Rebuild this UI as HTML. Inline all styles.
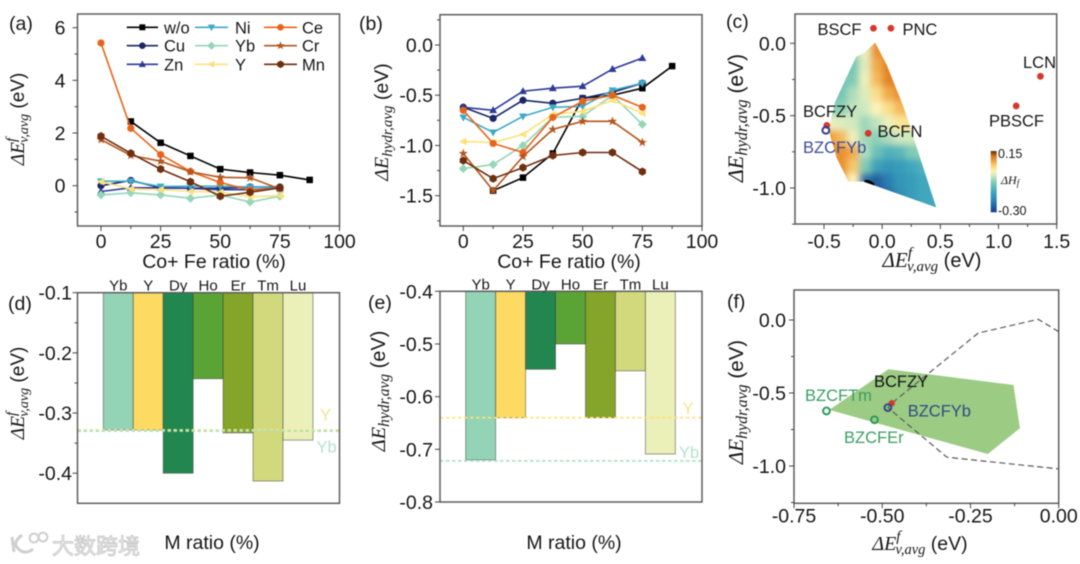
<!DOCTYPE html>
<html lang="en"><head><meta charset="utf-8"><title>Six panel perovskite chart</title>
<style>
html,body{margin:0;padding:0;background:#fff;width:1080px;height:564px;overflow:hidden}
svg{display:block;filter:blur(0.4px)}
text{font-family:"Liberation Sans","Noto Sans CJK SC",sans-serif;fill:#161616}
.m{font-family:"Liberation Serif",serif;font-style:italic}
.s{font-family:"Liberation Sans",sans-serif;font-style:normal}
</style></head><body>
<svg id="chart" xmlns="http://www.w3.org/2000/svg" width="1080" height="564" viewBox="0 0 1080 564">
<defs>
<filter id="soft" filterUnits="userSpaceOnUse" x="760" y="0" width="320" height="260"><feGaussianBlur stdDeviation="3.2"/></filter>
<linearGradient id="cbar" x1="0" y1="1" x2="0" y2="0"></linearGradient>
</defs>
<rect width="1080" height="564" fill="#fff"/>

<g font-size="19.5">
<text x="9" y="30">(a)</text>
<text x="359" y="30">(b)</text>
<text x="726" y="28">(c)</text>
<text x="8" y="310">(d)</text>
<text x="368" y="309">(e)</text>
<text x="727" y="308">(f)</text>
</g>

<g font-size="19.5" text-anchor="middle">
<text x="214" y="268">Co+ Fe ratio (%)</text>
<text x="569" y="268">Co+ Fe ratio (%)</text>
<text x="212" y="549">M ratio (%)</text>
<text x="574" y="549">M ratio (%)</text>
<text x="932" y="267" font-size="21"><tspan class="m">ΔE</tspan><tspan class="m" font-size="16" dy="-9">f</tspan><tspan class="m" font-size="15" dx="-5" dy="13">v,avg</tspan><tspan class="s" font-size="20" dy="-4"> (eV)</tspan></text>
<text x="920" y="550" font-size="20"><tspan class="m">ΔE</tspan><tspan class="m" font-size="15" dy="-9">f</tspan><tspan class="m" font-size="14.5" dx="-5" dy="13">v,avg</tspan><tspan class="s" font-size="19.5" dy="-4"> (eV)</tspan></text>
</g>

<g text-anchor="middle">
<text transform="translate(24,119) rotate(-90)" font-size="19.5"><tspan class="m">ΔE</tspan><tspan class="m" font-size="15" dy="-8">f</tspan><tspan class="m" font-size="14" dx="-5" dy="12">v,avg</tspan><tspan class="s" font-size="19" dy="-4"> (eV)</tspan></text>
<text transform="translate(388,122) rotate(-90)" font-size="20"><tspan class="m">ΔE</tspan><tspan class="m" font-size="15" dy="4">hydr,avg</tspan><tspan class="s" font-size="19.5" dy="-4"> (eV)</tspan></text>
<text transform="translate(743,118) rotate(-90)" font-size="22"><tspan class="m">ΔE</tspan><tspan class="m" font-size="16.5" dy="4">hydr,avg</tspan><tspan class="s" font-size="21" dy="-4"> (eV)</tspan></text>
<text transform="translate(24,393) rotate(-90)" font-size="19.5"><tspan class="m">ΔE</tspan><tspan class="m" font-size="15" dy="-8">f</tspan><tspan class="m" font-size="14" dx="-5" dy="12">v,avg</tspan><tspan class="s" font-size="19" dy="-4"> (eV)</tspan></text>
<text transform="translate(385,391) rotate(-90)" font-size="20.5"><tspan class="m">ΔE</tspan><tspan class="m" font-size="15.5" dy="4">hydr,avg</tspan><tspan class="s" font-size="20" dy="-4"> (eV)</tspan></text>
<text transform="translate(743,402) rotate(-90)" font-size="21"><tspan class="m">ΔE</tspan><tspan class="m" font-size="16" dy="4">hydr,avg</tspan><tspan class="s" font-size="20.5" dy="-4"> (eV)</tspan></text>
</g>

<g id="panelA"></g>
<g id="panelB"></g>
<g id="panelC"></g>
<g id="panelD"></g>
<g id="panelE"></g>
<g id="panelF"></g>

<g>
<g fill="none" stroke="#cfcfcf" stroke-width="3">
<path d="M12 537 L14 552 M22 535 Q10 544 21 551 Q27 554 33 549"/>
<circle cx="34" cy="538" r="4.4" stroke-width="2"/>
<circle cx="43" cy="537" r="4.4" stroke-width="2"/>
</g>
<text x="52" y="554" font-size="22" stroke="#c9c9c9" stroke-width="0.9" style="fill:#efefef;font-family:'Noto Sans CJK SC','Liberation Sans',sans-serif">大数跨境</text>
</g>
</svg>
<script>
// ---------- Panels (a) and (b): line chart data ----------
const ratios = [0, 12.5, 25, 37.5, 50, 62.5, 75, 87.5];
const seriesNames = ['w/o', 'Cu', 'Zn', 'Ni', 'Yb', 'Y', 'Ce', 'Cr', 'Mn'];
const seriesColors = ['#000000', '#1a2766', '#2c3a98', '#3fa9c6', '#93d6b8', '#fde27a', '#e8641a', '#b5561f', '#6e2f10'];
const seriesMarkers = ['square', 'circle', 'up', 'down', 'diamond', 'left', 'circle', 'star', 'hex'];
const vacancyWo = [null, 2.44, 1.63, 1.13, 0.63, 0.5, 0.4, 0.22];
const vacancyCu = [0.0, 0.2, -0.08, -0.1, -0.1, -0.05, -0.05, null];
const vacancyZn = [-0.22, -0.08, -0.08, -0.1, -0.15, -0.15, -0.1, null];
const vacancyNi = [0.17, 0.17, -0.03, -0.02, -0.02, -0.05, -0.08, null];
const vacancyYb = [-0.35, -0.27, -0.35, -0.48, -0.35, -0.62, -0.4, null];
const vacancyY = [0.15, -0.12, -0.15, -0.22, -0.25, -0.42, -0.38, null];
const vacancyCe = [5.42, 2.18, 1.18, 0.54, 0.12, -0.17, -0.1, null];
const vacancyCr = [1.75, 1.15, 0.93, 0.53, 0.32, 0.3, -0.12, null];
const vacancyMn = [1.88, 1.23, 0.63, 0.15, -0.4, -0.25, -0.08, null];
const hydrWo = [null, -1.45, -1.32, -1.08, -0.53, -0.5, -0.43, -0.21];
const hydrCu = [-0.62, -0.73, -0.55, -0.58, -0.53, -0.47, -0.38, null];
const hydrZn = [-0.62, -0.65, -0.46, -0.43, -0.41, -0.24, -0.13, null];
const hydrNi = [-0.72, -0.87, -0.71, -0.62, -0.61, -0.45, -0.38, null];
const hydrYb = [-1.23, -1.19, -1.0, -0.72, -0.71, -0.5, -0.79, null];
const hydrY = [-0.96, -0.97, -0.89, -0.69, -0.66, -0.55, -0.68, null];
const hydrCe = [-0.65, -0.98, -1.07, -0.72, -0.56, -0.5, -0.62, null];
const hydrCr = [-1.08, -1.45, -1.11, -0.84, -0.76, -0.76, -0.97, null];
const hydrMn = [-1.15, -1.33, -1.22, -1.1, -1.07, -1.07, -1.26, null];
const ratioTicks = ['0', '25', '50', '75', '100'];
const aYTicks = ['0', '2', '4', '6'];
const bYTicks = ['-1.5', '-1.0', '-0.5', '0.0'];

// ---------- Panel (c): heatmap and scatter data ----------
const heatX = [-0.45, -0.35, -0.25, -0.15, -0.05, 0.05, 0.15, 0.25, 0.35, 0.45];
const heatY = [0.05, -0.05, -0.15, -0.25, -0.35, -0.45, -0.55, -0.65, -0.75, -0.85, -0.95, -1.05, -1.15];
const heatValues = [
 [-0.06, -0.06, -0.06, -0.01, 0.09, 0.10, 0.10, 0.10, 0.10, 0.10],
 [-0.06, -0.06, -0.06, -0.01, 0.09, 0.10, 0.10, 0.10, 0.10, 0.10],
 [-0.09, -0.09, -0.09, -0.02, 0.07, 0.10, 0.10, 0.10, 0.10, 0.10],
 [-0.09, -0.09, -0.08, -0.01, 0.06, 0.10, 0.10, 0.10, 0.10, 0.10],
 [-0.09, -0.09, -0.05, -0.02, 0.03, 0.07, 0.09, 0.09, 0.09, 0.09],
 [-0.08, -0.07, -0.04, -0.03, 0.0, 0.03, 0.06, 0.06, 0.06, 0.06],
 [-0.01, -0.02, -0.03, -0.06, -0.04, -0.01, 0.02, 0.03, 0.03, 0.03],
 [0.08, 0.06, -0.01, -0.06, -0.07, -0.05, -0.03, -0.03, -0.03, -0.03],
 [0.09, 0.09, 0.07, -0.05, -0.10, -0.13, -0.12, -0.08, -0.07, -0.07],
 [0.09, 0.09, 0.05, -0.08, -0.16, -0.18, -0.17, -0.15, -0.13, -0.13],
 [0.07, 0.07, 0.0, -0.24, -0.26, -0.22, -0.18, -0.17, -0.15, -0.15],
 [0.07, 0.07, 0.0, -0.26, -0.28, -0.24, -0.19, -0.17, -0.15, -0.15],
 [0.07, 0.07, 0.0, -0.26, -0.28, -0.24, -0.19, -0.17, -0.15, -0.15]
];
const heatScaleValues = [-0.30, -0.22, -0.15, -0.08, -0.03, 0.0, 0.04, 0.08, 0.11, 0.15];
const heatScaleColors = ['#1b3a8c', '#2a7fb0', '#3fa7bd', '#7fcbb5', '#cfe9c0', '#fbf3b8', '#f8d77a', '#ef9c3a', '#dd7a1e', '#5a2d0a'];
const hullX = [-0.06, 0.04, 0.183, 0.464, -0.16, -0.29, -0.39, -0.461, -0.404, -0.223, -0.16];
const hullY = [0.005, -0.15, -0.438, -1.134, -0.956, -0.956, -0.795, -0.6, -0.403, -0.092, -0.07];
const coldSpotX = [-0.11];
const coldSpotY = [-0.965];
const materialNames = ['BSCF', 'PNC', 'LCN', 'PBSCF', 'BCFZY', 'BCFN'];
const materialX = [-0.075, 0.075, 1.36, 1.152, -0.476, -0.12];
const materialY = [0.104, 0.104, -0.228, -0.433, -0.567, -0.622];
const bzcfybX = [-0.484];
const bzcfybY = [-0.601];
const cXTicks = ['-0.5', '0.0', '0.5', '1.0', '1.5'];
const cYTicks = ['-1.0', '-0.5', '0.0'];

// ---------- Panels (d) and (e): bar data ----------
const dopants = ['Yb', 'Y', 'Dy', 'Ho', 'Er', 'Tm', 'Lu'];
const dopantColors = ['#94d4b6', '#fdda62', '#21874f', '#5aa435', '#84a42a', '#d2d97c', '#ebf0b8'];
const dopantVacancy = [-0.328, -0.328, -0.4, -0.243, -0.333, -0.413, -0.345];
const dopantHydr = [-0.72, -0.64, -0.548, -0.5, -0.64, -0.551, -0.709];
const dYTicks = ['-0.4', '-0.3', '-0.2', '-0.1'];
const eYTicks = ['-0.8', '-0.7', '-0.6', '-0.5', '-0.4'];

// ---------- Panel (f): region and scatter data ----------
const regionX = [-0.65, -0.4825, -0.128, -0.11, -0.201];
const regionY = [-0.616, -0.338, -0.445, -0.742, -0.918];
const boundaryX = [0, -0.058, -0.228, -0.473, -0.484, -0.317, 0];
const boundaryY = [-0.08, 0.005, -0.09, -0.57, -0.6, -0.94, -1.02];
const bcfzyX = [-0.473];
const bcfzyY = [-0.57];
const ringNames = ['BZCFYb', 'BZCFTm', 'BZCFEr'];
const ringX = [-0.484, -0.658, -0.522];
const ringY = [-0.6, -0.623, -0.683];
const ringColors = ['#2f4a8a', '#2f9a5c', '#2f9a5c'];
const fXTicks = ['-0.75', '-0.50', '-0.25', '0.00'];
const fYTicks = ['-1.0', '-0.5', '0.0'];

const NS = 'http://www.w3.org/2000/svg';
function mk(tag, attrs, parent) {
  const e = document.createElementNS(NS, tag);
  for (const k in attrs) e.setAttribute(k, attrs[k]);
  parent.appendChild(e);
  return e;
}
function linear(d0, d1, r0, r1) { return v => r0 + (v - d0) * (r1 - r0) / (d1 - d0); }

function drawFrame(g, box) {
  const f = mk('rect', {x: box.l, y: box.t, width: box.r - box.l, height: box.b - box.t, fill: 'none', stroke: '#5e5e5e', 'stroke-width': 1.5}, g);
  
  
}
function drawXAxis(g, box, sx, ticks, minors, labelY) {
  ticks.forEach(t => {
    const x = sx(parseFloat(t));
    const l = mk('line', {x1: x, x2: x, y1: box.b, y2: box.b + 5, stroke: '#444', 'stroke-width': 1}, g);
    
    
    const s = mk('text', {x: x, y: labelY, 'text-anchor': 'middle', 'font-size': 19.5}, g);
    s.textContent = t;
    
    
  });
  minors.forEach(t => {
    const x = sx(t);
    const l = mk('line', {x1: x, x2: x, y1: box.b, y2: box.b + 3, stroke: '#444', 'stroke-width': 1}, g);
    
    
  });
}
function drawYAxis(g, box, sy, ticks, minors, labelX) {
  ticks.forEach(t => {
    const y = sy(parseFloat(t));
    const l = mk('line', {x1: box.l - 5, x2: box.l, y1: y, y2: y, stroke: '#444', 'stroke-width': 1}, g);
    
    
    const s = mk('text', {x: labelX, y: y + 7, 'text-anchor': 'end', 'font-size': 19.5}, g);
    s.textContent = t;
    
    
  });
  minors.forEach(t => {
    const y = sy(t);
    const l = mk('line', {x1: box.l - 3, x2: box.l, y1: y, y2: y, stroke: '#444', 'stroke-width': 1}, g);
    
    
  });
}
function markerPath(kind, x, y, r) {
  const pts = (list) => 'M' + list.map(p => (x + p[0] * r).toFixed(2) + ' ' + (y + p[1] * r).toFixed(2)).join('L') + 'Z';
  if (kind === 'square') return pts([[-0.9, -0.9], [0.9, -0.9], [0.9, 0.9], [-0.9, 0.9]]);
  if (kind === 'up') return pts([[0, -1.15], [1.1, 0.8], [-1.1, 0.8]]);
  if (kind === 'down') return pts([[0, 1.15], [1.1, -0.8], [-1.1, -0.8]]);
  if (kind === 'left') return pts([[-1.2, 0], [0.9, -1.05], [0.9, 1.05]]);
  if (kind === 'diamond') return pts([[0, -1.25], [1.25, 0], [0, 1.25], [-1.25, 0]]);
  if (kind === 'hex') return pts([[0, -1.15], [1, -0.58], [1, 0.58], [0, 1.15], [-1, 0.58], [-1, -0.58]]);
  if (kind === 'star') {
    const a = [];
    for (let i = 0; i < 10; i++) {
      const rr = i % 2 ? 0.55 : 1.35;
      const t = -Math.PI / 2 + i * Math.PI / 5;
      a.push([rr * Math.cos(t), rr * Math.sin(t)]);
    }
    return pts(a);
  }
  return 'M' + (x - r) + ' ' + y + 'a' + r + ' ' + r + ' 0 1 0 ' + (2 * r) + ' 0a' + r + ' ' + r + ' 0 1 0 ' + (-2 * r) + ' 0Z';
}
function drawSeries(g, sx, sy, values, i) {
  const name = seriesNames[i];
  const color = seriesColors[i];
  const group = mk('g', {}, g);
  
  
  const pts = [];
  values.forEach((v, k) => { if (v !== null) pts.push([sx(ratios[k]), sy(v)]); });
  const line = mk('polyline', {points: pts.map(p => p.join(',')).join(' '), fill: 'none', stroke: color, 'stroke-width': 1.6}, group);
  
  
  pts.forEach(p => {
    const m = mk('path', {d: markerPath(seriesMarkers[i], p[0], p[1], 3.6), fill: color}, group);
    
    
  });
}

// ---------- Panel (a) ----------
(function () {
  const g = document.getElementById('panelA');
  const box = {l: 77.5, r: 339.5, t: 14, b: 226};
  const sx = linear(0, 100, 101, 339.5);
  const sy = linear(0, 6, 185.7, 27.7);
  const all = [vacancyWo, vacancyCu, vacancyZn, vacancyNi, vacancyYb, vacancyY, vacancyCe, vacancyCr, vacancyMn];
  all.forEach((v, i) => drawSeries(g, sx, sy, v, i));
  drawFrame(g, box);
  drawXAxis(g, box, sx, ratioTicks, [12.5, 37.5, 62.5, 87.5], 248);
  drawYAxis(g, box, sy, aYTicks, [-1, 1, 3, 5], 65.5);
  const legendCols = [[126.7, 158, 164], [195, 228, 235], [264, 297, 302]];
  const legendRows = [27.3, 45.7, 64.3];
  const legendOrder = [0, 1, 2, 3, 4, 5, 6, 7, 8];
  legendOrder.forEach((s, n) => {
    const col = legendCols[Math.floor(n / 3)];
    const y = legendRows[n % 3];
    const e = mk('g', {}, g);
    
    
    const l = mk('line', {x1: col[0], x2: col[1], y1: y, y2: y, stroke: seriesColors[s], 'stroke-width': 1.6}, e);
    
    
    const m = mk('path', {d: markerPath(seriesMarkers[s], (col[0] + col[1]) / 2, y, 3.3), fill: seriesColors[s]}, e);
    
    
    const t = mk('text', {x: col[2], y: y + 6, 'font-size': 16.5}, e);
    t.textContent = seriesNames[s];
    
    
  });
})();

// ---------- Panel (b) ----------
(function () {
  const g = document.getElementById('panelB');
  const box = {l: 440, r: 702, t: 14.7, b: 226};
  const sx = linear(0, 100, 463.3, 702);
  const sy = linear(0, -1.5, 45, 195.7);
  const all = [hydrWo, hydrCu, hydrZn, hydrNi, hydrYb, hydrY, hydrCe, hydrCr, hydrMn];
  all.forEach((v, i) => drawSeries(g, sx, sy, v, i));
  drawFrame(g, box);
  drawXAxis(g, box, sx, ratioTicks, [12.5, 37.5, 62.5, 87.5], 248);
  drawYAxis(g, box, sy, bYTicks, [-1.75, -1.25, -0.75, -0.25, 0.25], 433);
})();

// ---------- Panel (c) ----------
function heatColor(v) {
  const d = heatScaleValues;
  const c = heatScaleColors;
  if (v <= d[0]) return c[0];
  for (let i = 1; i < d.length; i++) {
    if (v <= d[i]) {
      const t = (v - d[i - 1]) / (d[i] - d[i - 1]);
      const a = c[i - 1];
      const b = c[i];
      const ch = n => Math.round(parseInt(a.substr(n, 2), 16) * (1 - t) + parseInt(b.substr(n, 2), 16) * t);
      return 'rgb(' + ch(1) + ',' + ch(3) + ',' + ch(5) + ')';
    }
  }
  return c[c.length - 1];
}
(function () {
  const g = document.getElementById('panelC');
  const box = {l: 795, r: 1056.7, t: 14, b: 224};
  const sx = linear(-0.5, 1.5, 824, 1056.7);
  const sy = linear(0, -1, 43.3, 188);
  const hullPts = hullX.map((x, i) => sx(x).toFixed(1) + ',' + sy(hullY[i]).toFixed(1)).join(' ');
  const defs = document.querySelector('#chart defs');
  const clip = mk('clipPath', {id: 'hullClip'}, defs);
  mk('polygon', {points: hullPts}, clip);
  const outer = mk('g', {'clip-path': 'url(#hullClip)'}, g);
  
  
  const inner = mk('g', {filter: 'url(#soft)'}, outer);
  const hw = 0.05;
  heatY.forEach((yv, r) => {
    heatX.forEach((xv, c) => {
      const xa = sx(xv - hw - (c === 0 ? 0.2 : 0));
      const xb = sx(xv + hw + (c === heatX.length - 1 ? 0.2 : 0));
      const ya = sy(yv + hw + (r === 0 ? 0.2 : 0));
      const yb = sy(yv - hw - (r === heatY.length - 1 ? 0.2 : 0));
      const cell = mk('rect', {x: xa, y: ya, width: xb - xa + 0.5, height: yb - ya + 0.5, fill: heatColor(heatValues[r][c])}, inner);
      
      
    });
  });
  coldSpotX.forEach((x, i) => {
    const px = sx(x);
    const py = sy(coldSpotY[i]);
    const spot = mk('ellipse', {cx: px, cy: py, rx: 5.5, ry: 2.4, fill: '#000', transform: 'rotate(22 ' + px + ' ' + py + ')'}, outer);
    
    
  });
  drawFrame(g, box);
  drawXAxis(g, box, sx, cXTicks, [-0.25, 0.25, 0.75, 1.25], 248);
  drawYAxis(g, box, sy, cYTicks, [-1.25, -0.75, -0.25], 786);

  const labelX = [817.5, 902.5, 1023, 989, 803, 877.5];
  const labelY = [35, 35, 68, 126.5, 117, 137];
  materialNames.forEach((n, i) => {
    const p = mk('circle', {cx: sx(materialX[i]), cy: sy(materialY[i]), r: 3.4, fill: '#d6392b'}, g);
    
    
    const t = mk('text', {x: labelX[i], y: labelY[i], 'font-size': 16.5}, g);
    t.textContent = n;
    
    
  });
  const ring = mk('circle', {cx: sx(bzcfybX[0]), cy: sy(bzcfybY[0]), r: 3.4, fill: 'none', stroke: '#2f3f96', 'stroke-width': 2}, g);
  
  
  const rt = mk('text', {x: 803, y: 153, 'font-size': 16.5, style: 'fill:#3b4c9c'}, g);
  rt.textContent = 'BZCFYb';
  
  

  const grad = document.getElementById('cbar');
  heatScaleValues.forEach((v, i) => {
    mk('stop', {offset: (v + 0.3) / 0.45, 'stop-color': heatScaleColors[i]}, grad);
  });
  const bar = mk('rect', {x: 990.7, y: 151, width: 6, height: 61.3, fill: 'url(#cbar)'}, g);
  
  
  const hi = mk('text', {x: 998, y: 158, 'font-size': 12.5}, g);
  hi.textContent = '0.15';
  
  
  const lo = mk('text', {x: 998, y: 215, 'font-size': 12.5}, g);
  lo.textContent = '-0.30';
  
  
  const ct = mk('text', {x: 1001, y: 184, 'font-size': 12, class: 'm'}, g);
  ct.textContent = 'ΔH';
  
  
  const cs = mk('tspan', {'font-size': 9, dy: 2}, ct);
  cs.textContent = 'f';
})();

// ---------- Panels (d) and (e) ----------
function drawBars(gid, box, firstEdge, barW, domainBottom, values, yTicks, minors, labelX, yRefs, yLabelPos) {
  const g = document.getElementById(gid);
  const sy = linear(-0.1 - (gid === 'panelE' ? 0.3 : 0), domainBottom, box.t, box.b);
  const base = gid === 'panelE' ? -0.4 : -0.1;
  dopants.forEach((n, i) => {
    const x = firstEdge + i * barW;
    const bar = mk('rect', {x: x, y: sy(base), width: barW, height: sy(values[i]) - sy(base), fill: dopantColors[i], stroke: 'rgba(60,60,60,0.55)', 'stroke-width': 0.9}, g);
    
    
    const t = mk('text', {x: x + barW / 2, y: box.t - 2, 'text-anchor': 'middle', 'font-size': 15}, g);
    t.textContent = n;
    
    
  });
  const refColors = ['#fde27a', '#a5e0c6'];
  yRefs.forEach((v, i) => {
    const l = mk('line', {x1: box.l, x2: box.r, y1: sy(v), y2: sy(v), stroke: refColors[i], 'stroke-width': 1.6, 'stroke-dasharray': '3.5 2.5'}, g);
    
    
  });
  const labels = ['Y', 'Yb'];
  const labelColors = ['#f6e38c', '#b4e2cf'];
  labels.forEach((n, i) => {
    const t = mk('text', {x: yLabelPos[i][0], y: yLabelPos[i][1], 'font-size': 16.5, style: 'fill:' + labelColors[i]}, g);
    t.textContent = n;
    
    
  });
  drawFrame(g, box);
  drawYAxis(g, box, sy, yTicks, minors, labelX);
}
drawBars('panelD', {l: 77.5, r: 339.5, t: 292.7, b: 503.3}, 103.3, 29.95, -0.45, dopantVacancy, dYTicks,
  [-0.15, -0.25, -0.35], 72, [-0.328, -0.33], [[320, 420.7], [316.5, 452.7]]);
drawBars('panelE', {l: 440, r: 702, t: 291.3, b: 502}, 465.7, 29.95, -0.8, dopantHydr, eYTicks,
  [], 433, [-0.64, -0.722], [[682.5, 414], [679, 458]]);

// ---------- Panel (f) ----------
(function () {
  const g = document.getElementById('panelF');
  const box = {l: 794, r: 1058.7, t: 290, b: 503.3};
  const sx = linear(-0.75, 0, 794, 1058.7);
  const sy = linear(0, -1, 320, 466);
  const region = mk('polygon', {points: regionX.map((x, i) => sx(x).toFixed(1) + ',' + sy(regionY[i]).toFixed(1)).join(' '), fill: '#9ccb84'}, g);
  
  
  const bd = mk('polyline', {points: boundaryX.map((x, i) => sx(x).toFixed(1) + ',' + sy(boundaryY[i]).toFixed(1)).join(' '), fill: 'none', stroke: '#5a5a5a', 'stroke-width': 1.2, 'stroke-dasharray': '6 3.5'}, g);
  
  
  const red = mk('circle', {cx: sx(bcfzyX[0]), cy: sy(bcfzyY[0]), r: 3.2, fill: '#d6392b'}, g);
  
  
  ringNames.forEach((n, i) => {
    const c = mk('circle', {cx: sx(ringX[i]), cy: sy(ringY[i]), r: 3.4, fill: 'none', stroke: ringColors[i], 'stroke-width': 2}, g);
    
    
  });
  const names = ['BCFZY', 'BZCFYb', 'BZCFTm', 'BZCFEr'];
  const tx = [874, 907.7, 805, 844];
  const ty = [387, 416.7, 401, 443];
  const tc = ['#111', '#2f4a80', '#3c9d62', '#3c9d62'];
  names.forEach((n, i) => {
    const t = mk('text', {x: tx[i], y: ty[i], 'font-size': 16.5, style: 'fill:' + tc[i]}, g);
    t.textContent = n;
    
    
  });
  drawFrame(g, box);
  drawXAxis(g, box, sx, fXTicks, [-0.625, -0.375, -0.125], 522.5);
  drawYAxis(g, box, sy, fYTicks, [-1.25, -0.75, -0.25], 786);
})();
</script>
</body></html>
